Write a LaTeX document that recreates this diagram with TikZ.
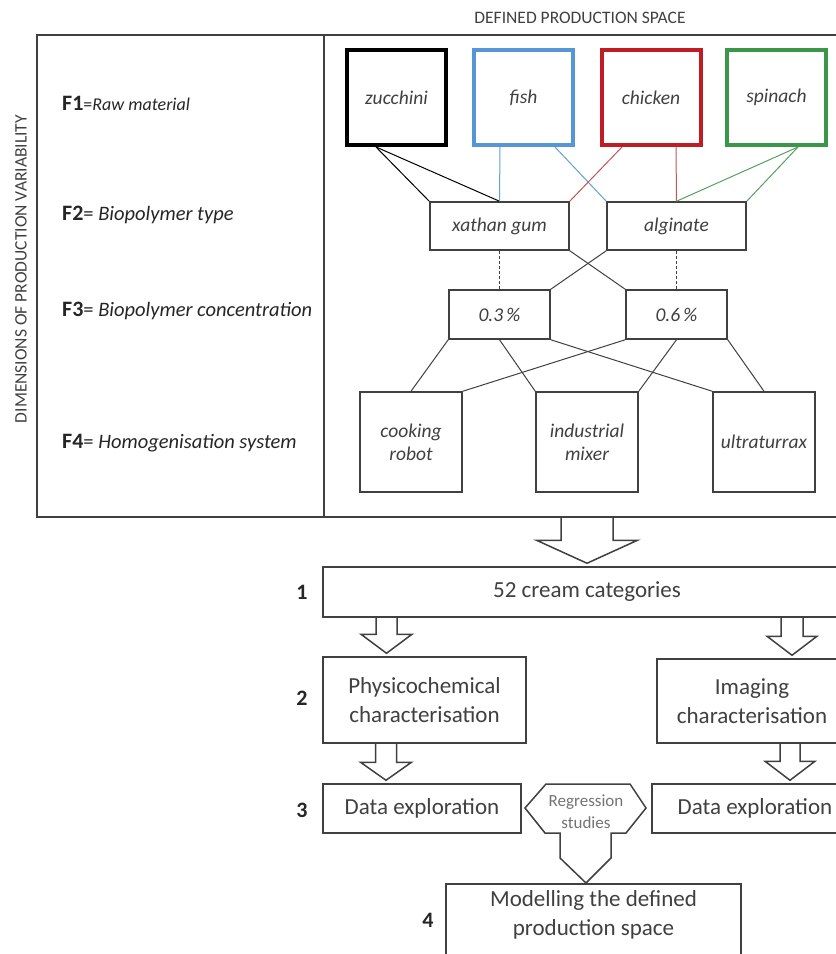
\documentclass[tikz,border=0pt]{standalone}
\usepackage{fontspec}
\setmainfont{Carlito}
\usetikzlibrary{calc}

\definecolor{ink}{RGB}{64,64,64}
\definecolor{fishblue}{RGB}{84,150,214}
\definecolor{chickred}{RGB}{192,28,36}
\definecolor{spingreen}{RGB}{58,150,72}
\definecolor{fishline}{RGB}{96,162,204}
\definecolor{chickline}{RGB}{196,84,84}
\definecolor{spinline}{RGB}{86,160,96}

% hollow block arrow: x, from, to, shaft half width, head half width, head length
\newcommand{\fatarrow}[6]{%
  \draw[blockline] let \p1=(#2), \p2=(#3) in
    (#1pt-#4pt,\y1) -- (#1pt-#4pt,\y2+#6pt+3pt) -- (#1pt-#5pt,\y2+#6pt+3pt)
    -- (#1pt,\y2+3pt) -- (#1pt+#5pt,\y2+#6pt+3pt) -- (#1pt+#4pt,\y2+#6pt+3pt)
    -- (#1pt+#4pt,\y1);}

\begin{document}
\begin{tikzpicture}[x=1pt, y=-1pt,
    box/.style={draw=ink, line width=1.5pt, fill=white, inner sep=0pt, align=center, text=ink},
    rawbox/.style={box, line width=4pt, minimum width=99pt, minimum height=95pt,
      font=\fontsize{19.5}{23}\selectfont\itshape},
    polybox/.style={box, minimum width=139pt, minimum height=48pt,
      font=\fontsize{19.5}{23}\selectfont\itshape},
    concbox/.style={box, minimum width=101pt, minimum height=49pt,
      font=\fontsize{19.5}{23}\selectfont\itshape},
    homobox/.style={box, minimum width=102pt, minimum height=100pt,
      font=\fontsize{19.5}{23}\selectfont\itshape},
    stagebox/.style={box, font=\fontsize{23}{29}\selectfont},
    link/.style={draw=ink, line width=1pt},
    frame/.style={draw=ink, line width=1.8pt},
    blockline/.style={draw=ink, line width=1.5pt, line join=miter},
    flabel/.style={anchor=west, inner sep=0pt, text=black!85, font=\fontsize{22}{26}\selectfont},
    caps/.style={inner sep=0pt, text=ink, font=\fontsize{17.5}{20}\selectfont},
    num/.style={inner sep=0pt, text=black!85, font=\fontsize{22}{26}\selectfont\bfseries}]

  \clip (0,0) rectangle (836,954);

  % production space frame
  \draw[frame] (37,35) rectangle (850,517);
  \draw[frame] (324,35) -- (324,517);
  \coordinate (fb) at (587,517);

  \node[caps] (ttl) at (580,18) {DEFINED PRODUCTION SPACE};
  \node[caps, rotate=90] (dim) at (21,269) {DIMENSIONS OF PRODUCTION VARIABILITY};

  \node[flabel] (f1) at (62,103) {\textbf{F1}{\fontsize{18}{20}\selectfont=\itshape Raw material}};
  \node[flabel] (f2) at (62,215) {\textbf{F2}{\fontsize{20.5}{22}\selectfont= \itshape Biopolymer type}};
  \node[flabel] (f3) at (62,311) {\textbf{F3}{\fontsize{20.5}{22}\selectfont= \itshape Biopolymer concentration}};
  \node[flabel] (f4) at (62,443) {\textbf{F4}{\fontsize{20.5}{22}\selectfont= \itshape Homogenisation system}};

  % factor levels
  \foreach \n/\t/\c/\x in {zuc/zucchini/black/396.5, fish/fish/fishblue/523.5,
      chick/chicken/chickred/651, spin/spinach/spingreen/776.5}
    \node[rawbox, draw=\c] (\n) at (\x,97.5) {\t};

  \node[polybox] (xg) at (499.5,226) {xathan gum};
  \node[polybox] (alg) at (676.5,226) {alginate};

  \node[concbox] (c03) at (499.5,314.5) {0.3\,\%};
  \node[concbox] (c06) at (676.5,314.5) {0.6\,\%};

  \node[homobox] (rob) at (411,442) {cooking\\robot};
  \node[homobox] (mix) at (587,442) {industrial\\mixer};
  \node[homobox] (ult) at (764,442) {ultraturrax};

  \draw[link, draw=black] ([xshift=-20.5pt]zuc.south) -- (xg.north west);
  \draw[link, draw=black] ([xshift=-20.5pt]zuc.south) -- (xg.north);
  \draw[link, draw=fishline] ([xshift=-23.5pt]fish.south) -- (xg.north);
  \draw[link, draw=fishline] ([xshift=31.5pt]fish.south) -- (alg.north west);
  \draw[link, draw=chickline] ([xshift=-29pt]chick.south) -- (xg.north east);
  \draw[link, draw=chickline] ([xshift=25pt]chick.south) -- (alg.north);
  \draw[link, draw=spinline] ([xshift=21.5pt]spin.south) -- (alg.north);
  \draw[link, draw=spinline] ([xshift=21.5pt]spin.south) -- (alg.north east);

  \draw[link, densely dashed] (xg.south) -- (c03.north);
  \draw[link, densely dashed] (alg.south) -- (c06.north);
  \draw[link] (xg.south east) -- (c06.north west);
  \draw[link] (alg.south west) -- (c03.north east);

  \draw[link] (c03.south west) -- (rob.north);
  \draw[link] (c03.south) -- (mix.north west);
  \draw[link] (c03.south east) -- (ult.north west);
  \draw[link] (c06.south west) -- (rob.north east);
  \draw[link] (c06.south) -- (mix.north east);
  \draw[link] (c06.south east) -- (ult.north);

  % work stages
  \node[num] (n1) at (302,592) {1};
  \node[num] (n2) at (302,698) {2};
  \node[num] (n3) at (302,810) {3};
  \node[num] (n4) at (428,920) {4};

  \node[stagebox, minimum width=528pt, minimum height=50pt] (cat) at (587,592) {52 cream categories};
  \node[stagebox, minimum width=203pt, minimum height=86pt] (phys) at (424.5,700) {Physicochemical\\characterisation};
  \node[stagebox, minimum width=190pt, minimum height=84pt] (imag) at (752,701) {Imaging\\characterisation};
  \node[stagebox, minimum width=198pt, minimum height=49pt] (dexl) at (422,808.5) {Data exploration};
  \node[stagebox, minimum width=206pt, minimum height=49pt] (dexr) at (755,808.5) {Data exploration};
  \node[stagebox, minimum width=295pt, anchor=north, inner ysep=7pt, text depth=48pt] (model) at (593.5,883)
    {Modelling the defined\\production space};

  \fatarrow{587}{fb}{cat.north}{26}{50.5}{23}
  \fatarrow{386.5}{cat.south}{phys.north}{10.5}{25.5}{19}
  \fatarrow{792}{cat.south}{imag.north}{11}{25}{19}
  \fatarrow{386}{phys.south}{dexl.north}{10.5}{25.5}{18}
  \fatarrow{790}{imag.south}{dexr.north}{10}{25}{19}

  \node[inner sep=0pt, align=center, text=black!55, font=\fontsize{17}{22}\selectfont] (reg) at (586,812)
    {Regression\\studies};
  \draw[blockline] (525,808) -- (546,784) -- (630,784) -- (646,808) -- (626,833) -- (611,833)
    -- (611,858) -- (reg |- model.north) -- (560,858) -- (560,833) -- (545,833) -- cycle;
\end{tikzpicture}
\end{document}
